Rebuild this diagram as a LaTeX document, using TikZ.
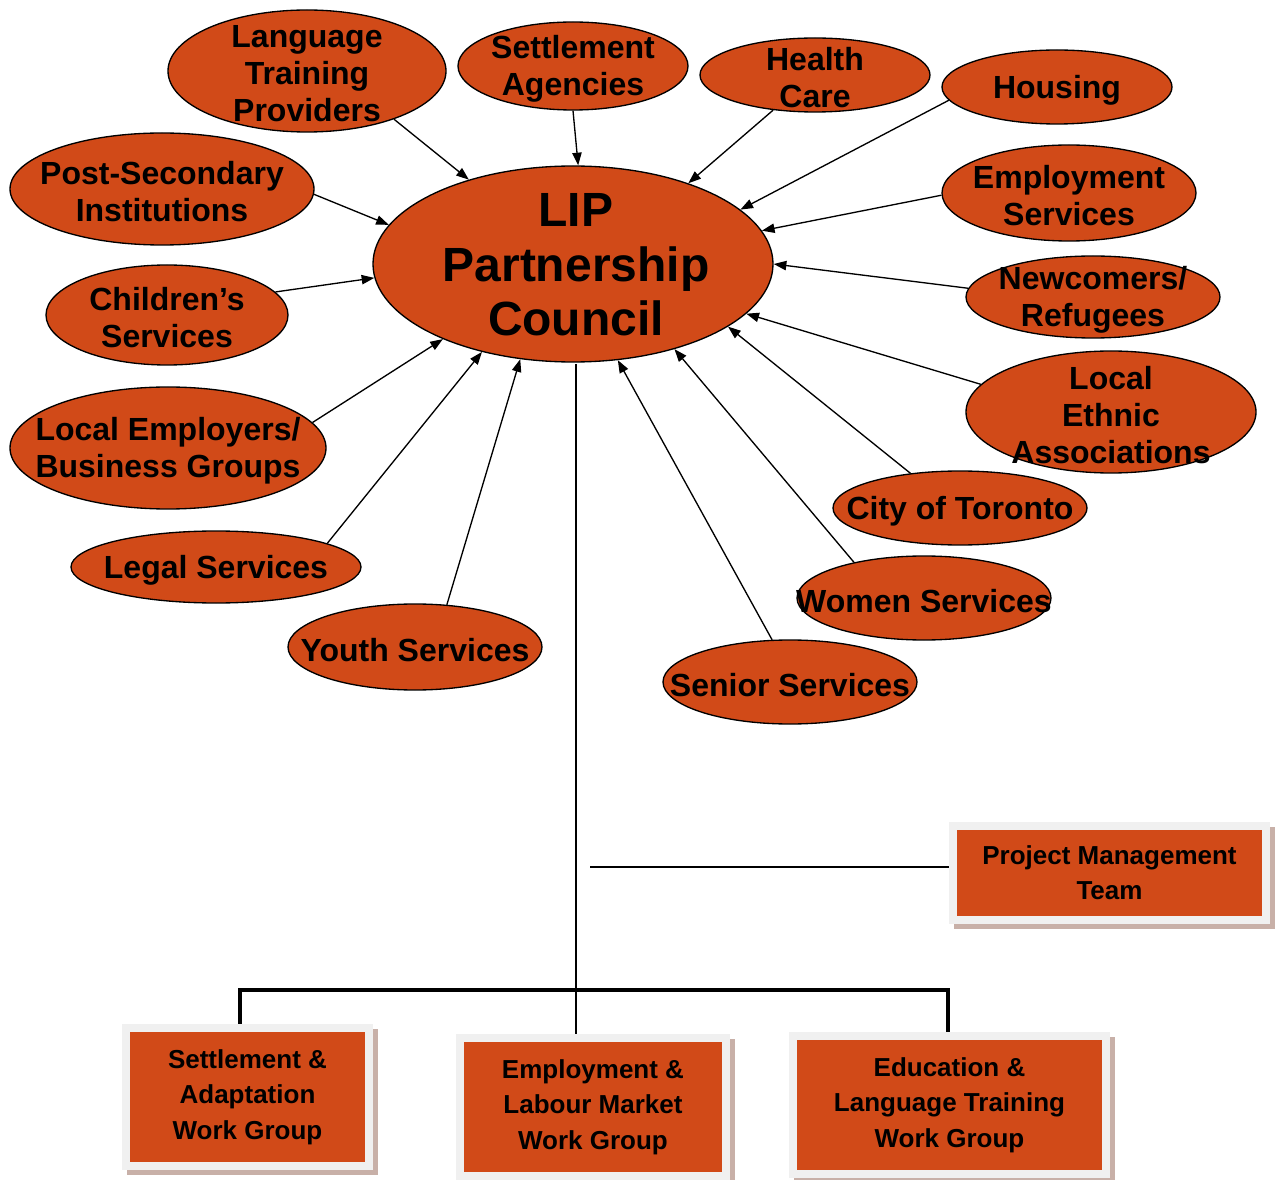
\documentclass[tikz,border=0pt]{standalone}
\usepackage{fontspec}
\setmainfont{Liberation Sans}
\usetikzlibrary{shapes.geometric,arrows.meta}
\definecolor{lipred}{RGB}{209,74,24}
\definecolor{panelgray}{RGB}{240,240,240}
\definecolor{shadowc}{RGB}{200,176,168}
\tikzset{
  sz/.style 2 args={minimum width=#1*0.75pt, minimum height=#2*0.75pt},
  sat/.style={ellipse, draw=black, line width=1pt, fill=lipred, inner sep=0pt},
  sattext/.style={align=center, inner sep=0pt, yshift=-2.2pt, font=\bfseries\fontsize{24}{27.75}\selectfont},
  conn/.style={line width=1pt, -{Triangle[length=9.5pt,width=7pt]}},
  wgbox/.style={rectangle, fill=panelgray, inner sep=0pt, align=center,
    font=\bfseries\fontsize{19.5}{26.5}\selectfont,
    preaction={fill=shadowc, transform canvas={shift={(3.5pt,-4pt)}}},
    path picture={\fill[lipred] ([shift={(6pt,-6pt)}]path picture bounding box.north west)
       rectangle ([shift={(-6pt,6pt)}]path picture bounding box.south east);}},
  plainline/.style={line width=1.1pt},
  busline/.style={line width=3pt}
}
\begin{document}
\begin{tikzpicture}[x=0.75pt,y=-0.75pt]
\useasboundingbox (0,0) rectangle (1275,1180);

% central council
\node[sat, sz={400}{196}] (lip) at (573,264) {};
\node[align=center, inner sep=0pt, font=\bfseries\fontsize{36}{41}\selectfont] (lipt) at (576,265) {LIP\\Partnership\\Council};

% satellites
\node[sat, sz={278}{122}] (lt) at (307,71) {};
\node[sattext] (ltt) at (lt) {Language\\Training\\Providers};
\node[sat, sz={230}{88}] (sa) at (573,66) {};
\node[sattext] (sat) at (sa) {Settlement\\Agencies};
\node[sat, sz={230}{74}] (hc) at (815,75) {};
\node[sattext] (hct) at (hc) {Health\\Care};
\node[sat, sz={230}{74}] (ho) at (1057,87) {};
\node[sattext] (hot) at (ho) {Housing};
\node[sat, sz={304}{112}] (ps) at (162,189) {};
\node[sattext] (pst) at (ps) {Post-Secondary\\Institutions};
\node[sat, sz={254}{96}] (es) at (1069,193) {};
\node[sattext] (est) at (es) {Employment\\Services};
\node[sat, sz={242}{100}] (cs) at (167,315) {};
\node[sattext] (cst) at (cs) {Children’s\\Services};
\node[sat, sz={254}{82}] (nr) at (1093,297) {};
\node[sattext] (nrt) at (nr) {Newcomers/\\Refugees};
\node[sat, sz={316}{122}] (le) at (168,448) {};
\node[sattext] (let) at (le) {Local Employers/\\Business Groups};
\node[sat, sz={290}{122}] (ea) at (1111,412) {};
\node[sattext] (eat) at (ea) {Local\\Ethnic\\Associations};
\node[sat, sz={254}{74}] (ct) at (960,508) {};
\node[sattext] (ctt) at (ct) {City of Toronto};
\node[sat, sz={290}{72}] (ls) at (216,567) {};
\node[sattext] (lst) at (ls) {Legal Services};
\node[sat, sz={254}{84}] (ws) at (924,598) {};
\node[sattext] (wst) at (ws) {Women Services};
\node[sat, sz={254}{86}] (ys) at (415,647) {};
\node[sattext] (yst) at (ys) {Youth Services};
\node[sat, sz={254}{84}] (ss) at (790,682) {};
\node[sattext] (sst) at (ss) {Senior Services};

% connectors
\draw[conn] (lt.-29.5) -- (lip.141);
\draw[conn] (sa.-90) -- (lip.87);
\draw[conn] (hc.220.7) -- (lip.35.4);
\draw[conn] (ho.187) -- (lip.18.4);
\draw[conn] (ps.-2.6) -- (lip.168.8);
\draw[conn] (es.181.4) -- (lip.10.4);
\draw[conn] (cs.12.2) -- (lip.184.3);
\draw[conn] (nr.176.8) -- (lip.-0.9);
\draw[conn] (le.10.5) -- (lip.210);
\draw[conn] (ea.168.5) -- (lip.-16.4);
\draw[conn] (ct.145.4) -- (lip.-22.7);
\draw[conn] (ls.12.7) -- (lip.224.7);
\draw[conn] (ws.153.8) -- (lip.-40.2);
\draw[conn] (ys.53.3) -- (lip.241.2);
\draw[conn] (ss.113.2) -- (lip.-65.6);

% boxes
\node[wgbox, sz={321}{102}] (pmt) at (1109.5,873) {Project Management\\Team};
\node[wgbox, sz={251}{146}] (sag) at (247.5,1097) {Settlement \&\\Adaptation\\Work Group};
\node[wgbox, sz={274}{146}] (elm) at (593,1107) {Employment \&\\Labour Market\\Work Group};
\node[wgbox, sz={321}{146}] (elt) at (949.5,1105) {Education \&\\Language Training\\Work Group};

% lines
\coordinate (vtop) at (576,364);
\draw[plainline] (vtop) -- (vtop |- elm.north);
\coordinate (pl) at (590,867);
\draw[plainline] (pl) -- (pl -| pmt.west);
\coordinate (busL) at (240,990);
\coordinate (busR) at (948,990);
\draw[busline] (busL |- sag.north) -- (busL) -- (busR) -- (busR |- elt.north);
\end{tikzpicture}
\end{document}
